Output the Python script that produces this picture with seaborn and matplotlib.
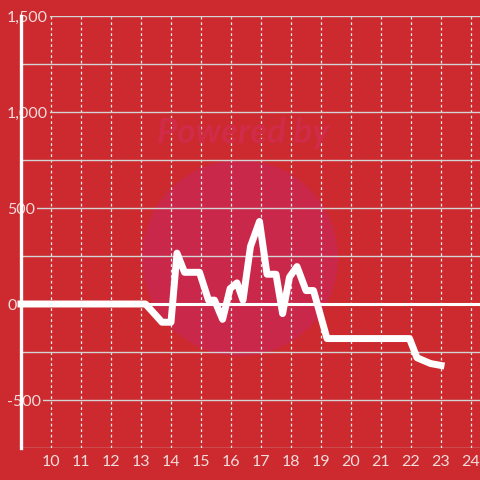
import matplotlib
matplotlib.use("Agg")
import matplotlib.pyplot as plt
import seaborn as sns
from matplotlib.patches import Circle

# data
hours = [9.0, 13.15, 13.5, 13.7, 14.0, 14.2, 14.45, 14.95, 15.25, 15.45,
         15.72, 15.97, 16.2, 16.4, 16.65, 16.95, 17.2, 17.5, 17.72, 17.95,
         18.2, 18.5, 18.75, 19.2, 21.95, 22.2, 22.65, 23.0]
values = [0, 0, -60, -95, -95, 265, 165, 165, 20, 20,
          -80, 80, 110, 20, 300, 430, 155, 155, -50, 140,
          195, 70, 70, -180, -180, -280, -310, -320]

x_ticks = list(range(10, 25))
y_ticks = [-500, 0, 500, 1000, 1500]
y_labels = ["-500", "0", "500", "1,000", "1,500"]
y_minor = [-750, -250, 250, 750, 1250]

bg = "#cc2a2e"
txt = "#f3dcdc"

sns.set_style("white", rc={"axes.facecolor": bg, "figure.facecolor": bg})
plt.rcParams["font.family"] = ["Lato", "DejaVu Sans"]

fig = plt.figure(figsize=(4.8, 4.8), dpi=100)
ax = fig.add_axes([21 / 480, 32 / 480, 459 / 480, 432 / 480])

# watermark
ax.add_patch(Circle((240 / 480, 1 - 258 / 480), 98 / 480, transform=fig.transFigure,
                    facecolor="#c9284a", edgecolor="none", zorder=0.5, clip_on=False))
fig.text(243 / 480, 1 - 133 / 480, "Powered by", ha="center", va="center",
         fontsize=25, fontweight="bold", style="italic", color="#d02b48", zorder=0.6)

sns.lineplot(x=hours, y=values, ax=ax, color="white", linewidth=5,
             estimator=None, solid_capstyle="projecting", clip_on=False, zorder=3)
ax.axhline(0, color="white", linewidth=2.2, zorder=2.8)

ax.set_xlim(9, 24.3)
ax.set_ylim(-750, 1500)
ax.set_xticks(x_ticks)
ax.set_yticks(y_ticks)
ax.set_yticklabels(y_labels)
ax.set_yticks(y_minor, minor=True)

ax.grid(axis="y", which="both", color="#d4d4d4", linewidth=1, linestyle="-")
ax.grid(axis="x", which="major", color="#eeeeee", linewidth=0.9, linestyle=(0, (2.2, 2.2)))

for s in ["top", "right", "bottom"]:
    ax.spines[s].set_visible(False)
ax.spines["left"].set_color("white")
ax.spines["left"].set_linewidth(2.4)
ax.spines["left"].set_zorder(1)

ax.tick_params(axis="x", length=0, pad=5, labelsize=11.5, labelcolor=txt)
ax.tick_params(axis="y", which="both", length=0, pad=10, labelsize=11.5, labelcolor=txt)
for lab in ax.get_yticklabels():
    lab.set_horizontalalignment("left")
    lab.set_bbox(dict(facecolor=bg, edgecolor="none", pad=1.5))

fig.savefig("out.png", dpi=100, facecolor=bg)
